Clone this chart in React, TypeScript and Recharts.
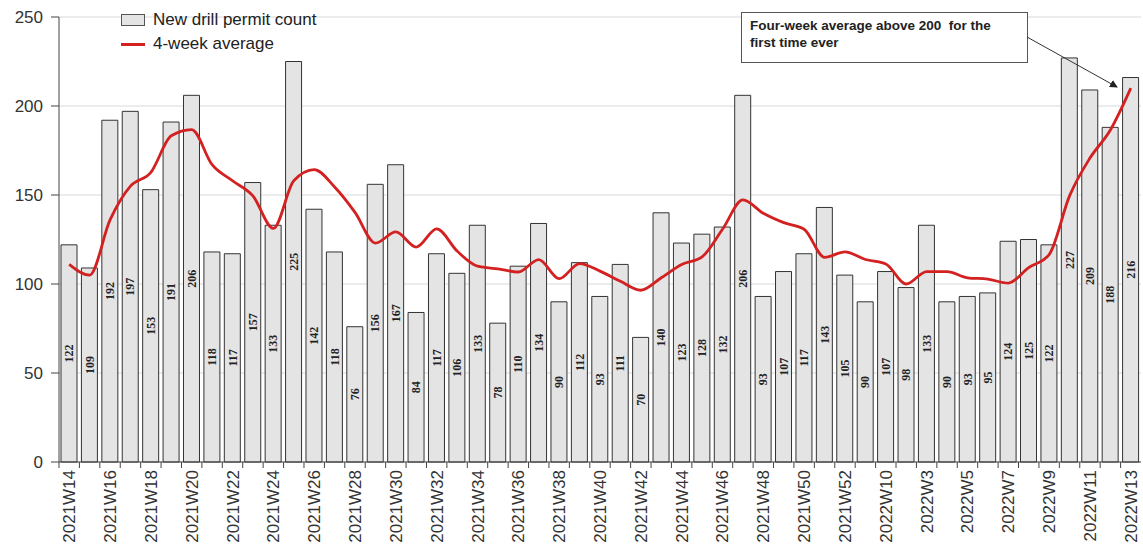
import React from 'react';
import { ComposedChart, Bar, Line, XAxis, YAxis, CartesianGrid, LabelList, Legend } from 'recharts';

// weekly new drill permits, 2021W14 through 2022W13 (category names as printed on the axis)
const weeks = [
  '2021W14', '2021W15', '2021W16', '2021W17', '2021W18', '2021W19', '2021W20', '2021W21',
  '2021W22', '2021W23', '2021W24', '2021W25', '2021W26', '2021W27', '2021W28', '2021W29',
  '2021W30', '2021W31', '2021W32', '2021W33', '2021W34', '2021W35', '2021W36', '2021W37',
  '2021W38', '2021W39', '2021W40', '2021W41', '2021W42', '2021W43', '2021W44', '2021W45',
  '2021W46', '2021W47', '2021W48', '2021W49', '2021W50', '2021W51', '2021W52',
  '2022W1', '2022W10', '2022W2', '2022W3', '2022W4', '2022W5', '2022W6', '2022W7',
  '2022W8', '2022W9', '2022W10', '2022W11', '2022W12', '2022W13',
];

const permitCounts = [
  122, 109, 192, 197, 153, 191, 206, 118, 117, 157, 133, 225, 142, 118, 76, 156,
  167, 84, 117, 106, 133, 78, 110, 134, 90, 112, 93, 111, 70, 140, 123, 128,
  132, 206, 93, 107, 117, 143, 105, 90, 107, 98, 133, 90, 93, 95, 124, 125,
  122, 227, 209, 188, 216,
];

const fourWeekAverage = [
  111, 105, 136, 155, 162.75, 183.25, 186.75, 167, 158, 149.5, 131.25, 158, 164.25, 154.5, 140.25, 123,
  129.25, 120.75, 131, 118.5, 110, 108.5, 106.75, 113.75, 103, 111.5, 107.25, 101.5, 96.5, 103.5, 111, 115.25,
  130.75, 147.25, 139.75, 134.5, 130.75, 115, 118, 113.75, 111.25, 100, 107, 107, 103.5, 102.75, 100.5, 109.25,
  116.5, 149.5, 170.75, 186.5, 210,
];

const yTicks = [0, 50, 100, 150, 200, 250];

const data = weeks.map((week, i) => ({
  week,
  count: permitCounts[i],
  avg: fourWeekAverage[i],
}));

const FONT = '"Liberation Sans", Arial, sans-serif';

// tick marks sit on the category boundaries; only every other week gets a label
function WeekTick(props: any) {
  const { x, y, payload, index } = props;
  const half = payload && payload.offset ? payload.offset : 10.2;
  return (
    <g>
      <line x1={x - half} x2={x - half} y1={y} y2={y + 6} stroke="#444" strokeWidth={1} />
      {index % 2 === 0 && (
        <text
          transform={`translate(${x + 6},${y + 8}) rotate(-90)`}
          textAnchor="end"
          fontSize={17}
          fontFamily={FONT}
          fill="#333"
        >
          {payload.value}
        </text>
      )}
    </g>
  );
}

function LegendBox() {
  return (
    <div style={{ fontFamily: FONT, fontSize: 17, color: '#222', lineHeight: '24px' }}>
      <div style={{ display: 'flex', alignItems: 'center' }}>
        <span style={{ display: 'inline-block', width: 22, height: 10, background: '#e4e4e4', border: '1px solid #555', marginRight: 8 }} />
        New drill permit count
      </div>
      <div style={{ display: 'flex', alignItems: 'center' }}>
        <span style={{ display: 'inline-block', width: 24, height: 3, background: '#d32020', marginRight: 8 }} />
        4-week average
      </div>
    </div>
  );
}

export default function App() {
  return (
    <div style={{ position: 'absolute', left: 0, top: 0, width: 1143, height: 548, background: '#fff' }}>
      <ComposedChart width={1143} height={548} data={data} margin={{ top: 17, right: 2, bottom: 0, left: 0 }} barSize={16}>
        <CartesianGrid vertical={false} stroke="#d9d9d9" />
        <XAxis
          dataKey="week"
          interval={0}
          height={86}
          tick={<WeekTick />}
          tickLine={false}
          tickSize={0}
          tickMargin={0}
          axisLine={{ stroke: '#444' }}
        />
        <YAxis
          domain={[0, 250]}
          ticks={yTicks}
          width={59}
          tickSize={8}
          tickMargin={8}
          tick={{ fontSize: 17, fill: '#333', fontFamily: FONT }}
          tickLine={{ stroke: '#444' }}
          axisLine={{ stroke: '#444' }}
        />
        <Legend
          layout="horizontal"
          verticalAlign="middle"
          align="center"
          wrapperStyle={{ top: 8, left: 121, width: 260 }}
          content={() => <LegendBox />}
        />
        <Bar dataKey="count" fill="#e4e4e4" stroke="#333" strokeWidth={1} isAnimationActive={false}>
          <LabelList
            dataKey="count"
            position="center"
            angle={-90}
            fontSize={12}
            fontWeight="bold"
            fontFamily='"Liberation Serif", serif'
            fill="#222"
          />
        </Bar>
        <Line
          type="monotone"
          dataKey="avg"
          stroke="#d32020"
          strokeWidth={2.8}
          dot={false}
          activeDot={false}
          isAnimationActive={false}
        />
      </ComposedChart>

      <div
        style={{
          position: 'absolute',
          left: 741,
          top: 12,
          width: 272,
          height: 41,
          border: '1px solid #555',
          background: '#fff',
          fontFamily: FONT,
          fontSize: 13.5,
          fontWeight: 'bold',
          color: '#222',
          padding: '4px 5px 4px 8px',
          lineHeight: '17px',
          boxSizing: 'content-box',
          whiteSpace: 'nowrap',
        }}
      >
        Four-week average above 200&nbsp; for the
        <br />
        first time ever
      </div>
      <svg style={{ position: 'absolute', left: 0, top: 0, pointerEvents: 'none' }} width={1143} height={548}>
        <defs>
          <marker id="arrowHead" markerWidth="8" markerHeight="8" refX="7" refY="4" orient="auto">
            <path d="M0,0 L8,4 L0,8 Z" fill="#222" />
          </marker>
        </defs>
        <line x1={1027} y1={37} x2={1117} y2={87} stroke="#333" strokeWidth={1} markerEnd="url(#arrowHead)" />
      </svg>
    </div>
  );
}
